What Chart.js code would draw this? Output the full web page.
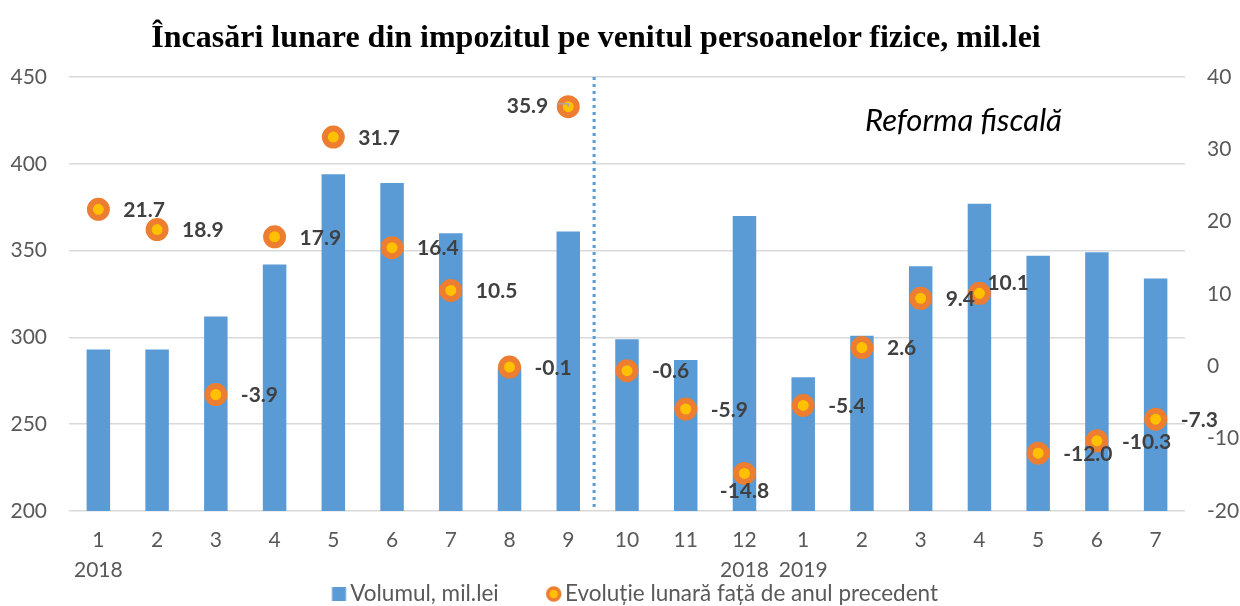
<!DOCTYPE html>
<html><head><meta charset="utf-8">
<script src="https://cdn.jsdelivr.net/npm/chart.js@4.4.1/dist/chart.umd.min.js"></script>
<style>
html,body{margin:0;padding:0;background:#fff;}
#wrap{position:relative;width:1240px;height:606px;overflow:hidden;}
#title{position:absolute;left:0;top:17px;width:1192px;text-align:center;font-family:"Liberation Serif","Times New Roman",serif;font-weight:bold;font-size:32px;line-height:38px;color:#000;white-space:nowrap;}
canvas{position:absolute;left:0;top:0;}
</style></head><body>
<div id="wrap"><canvas id="c" width="1240" height="606"></canvas><div id="title">Încasări lunare din impozitul pe venitul persoanelor fizice, mil.lei</div></div>
<script>
const monthLabels = ['1','2','3','4','5','6','7','8','9','10','11','12','1','2','3','4','5','6','7'];
const yearLabels  = ['2018','','','','','','','','','','','2018','2019','','','','','',''];
const volume    = [293, 293, 312, 342, 394, 389, 360, 283, 361, 299, 287, 370, 277, 301, 341, 377, 347, 349, 334];
const evolution = [21.7, 18.9, -3.9, 17.9, 31.7, 16.4, 10.5, -0.1, 35.9, -0.6, -5.9, -14.8, -5.4, 2.6, 9.4, 10.1, -12.0, -10.3, -7.3];
const leftTicks  = [200, 250, 300, 350, 400, 450];
const rightTicks = [-20, -10, 0, 10, 20, 30, 40];
const seriesNames = ['Volumul, mil.lei', 'Evoluție lunară față de anul precedent'];
const annotationText = 'Reforma fiscală';

const categories = monthLabels.map((m, i) => yearLabels[i] ? [m, yearLabels[i]] : m);
// label placement per point: r = right, l = left, b = below, ar = above-right
const placement = ['r','r','r','r','r','r','r','r','l','r','r','b','r','r','r','ar','r','r','r'];

const FONT = 'Lato, "Open Sans", sans-serif';
const BLUE = '#5B9BD5', ORANGE = '#ED7D31', YELLOW = '#FFC000';
const LEGEND_BOX = 53;

// legend markers (drawn at the right side of a wider transparent image so items are spaced like the original)
function makeMarker(kind) {
  const W = LEGEND_BOX + 17, H = 16;
  const c = document.createElement('canvas'); c.width = W; c.height = H;
  const g = c.getContext('2d');
  const cx = W / 2 + LEGEND_BOX / 2, cy = H / 2;
  if (kind === 'square') {
    g.fillStyle = BLUE; g.fillRect(cx - 7, cy - 7, 14, 14);
  } else {
    g.beginPath(); g.arc(cx, cy, 6, 0, Math.PI * 2);
    g.fillStyle = YELLOW; g.fill();
    g.lineWidth = 3.5; g.strokeStyle = ORANGE; g.stroke();
  }
  return c;
}
const legendMarkers = [makeMarker('square'), makeMarker('ring')];

const labelPlugin = {
  id: 'pointLabels',
  afterDatasetsDraw(chart) {
    const ctx = chart.ctx;
    const meta = chart.getDatasetMeta(1);
    ctx.save();
    ctx.font = 'bold 21px ' + FONT;
    ctx.fillStyle = '#404040';
    ctx.textBaseline = 'middle';
    meta.data.forEach((pt, i) => {
      const txt = evolution[i].toFixed(1);
      const p = placement[i];
      let x = pt.x, y = pt.y;
      if (p === 'r') { ctx.textAlign = 'left'; x += 25; y += 1; }
      else if (p === 'l') {
        ctx.textAlign = 'right'; x -= 20;
        // small leader line from label to point
        ctx.save();
        ctx.strokeStyle = '#A6A6A6'; ctx.lineWidth = 1.5;
        ctx.beginPath(); ctx.moveTo(pt.x - 11, pt.y - 3); ctx.lineTo(pt.x, pt.y - 3); ctx.lineTo(pt.x, pt.y); ctx.stroke();
        ctx.restore();
      }
      else if (p === 'b') { ctx.textAlign = 'center'; y += 18; }
      else if (p === 'ar') { ctx.textAlign = 'left'; x += 8; y -= 10; }
      ctx.fillText(txt, x, y);
    });
    ctx.restore();
  }
};

const dividerPlugin = {
  id: 'divider',
  afterLayout(chart) {
    if (chart.legend) { chart.legend.left -= 15; chart.legend.right -= 15; }
  },
  afterDatasetsDraw(chart) {
    const xs = chart.scales.x;
    const a = xs.getPixelForValue(8), b = xs.getPixelForValue(9);
    const x = a + (b - a) * 0.44;
    const area = chart.chartArea;
    const ctx = chart.ctx;
    ctx.save();
    ctx.strokeStyle = BLUE;
    ctx.lineWidth = 3;
    ctx.setLineDash([3, 4]);
    ctx.beginPath();
    ctx.moveTo(x, area.top);
    ctx.lineTo(x, area.bottom);
    ctx.stroke();
    ctx.setLineDash([]);
    ctx.font = 'italic 31px ' + FONT;
    ctx.fillStyle = '#000';
    ctx.textAlign = 'left';
    ctx.textBaseline = 'alphabetic';
    ctx.fillText(annotationText, 865, 131);
    ctx.restore();
  }
};

new Chart(document.getElementById('c'), {
  data: {
    labels: categories,
    datasets: [
      {
        type: 'bar',
        label: seriesNames[0],
        data: volume,
        yAxisID: 'y',
        backgroundColor: BLUE,
        borderWidth: 0,
        barPercentage: 0.4,
        categoryPercentage: 1.0,
        order: 2
      },
      {
        type: 'line',
        label: seriesNames[1],
        data: evolution,
        yAxisID: 'y1',
        showLine: false,
        pointRadius: 8.5,
        pointBorderWidth: 6,
        pointBackgroundColor: YELLOW,
        pointBorderColor: ORANGE,
        backgroundColor: YELLOW,
        borderColor: ORANGE,
        pointStyle: 'circle',
        order: 1
      }
    ]
  },
  options: {
    responsive: false,
    animation: false,
    devicePixelRatio: 1,
    layout: { padding: { top: 77, left: 0, right: 0, bottom: -9.25 } },
    plugins: {
      tooltip: { enabled: false },
      title: { display: false },
      legend: {
        position: 'bottom',
        fullSize: false,
        labels: {
          usePointStyle: true,
          pointStyleWidth: LEGEND_BOX,
          boxWidth: LEGEND_BOX,
          boxHeight: 14,
          padding: 2,
          color: '#595959',
          font: { family: FONT, size: 22.5 },
          sort: (a, b) => a.datasetIndex - b.datasetIndex,
          generateLabels(chart) {
            const items = Chart.defaults.plugins.legend.labels.generateLabels(chart);
            items.forEach(it => {
              it.pointStyle = legendMarkers[it.datasetIndex];
              it.lineWidth = 0;
            });
            return items;
          }
        }
      }
    },
    scales: {
      x: {
        grid: { display: false, drawTicks: false },
        border: { display: false },
        ticks: { color: '#595959', font: { family: FONT, size: 21, lineHeight: 1.4 }, padding: 15, maxRotation: 0, autoSkip: false },
        afterFit(s) { s.height = 69.75; }
      },
      y: {
        position: 'left',
        min: 200, max: 450,
        afterBuildTicks(s) { s.ticks = leftTicks.map(v => ({ value: v })); },
        grid: { color: '#D9D9D9', lineWidth: 1.5, drawTicks: false },
        border: { display: false },
        ticks: { color: '#595959', font: { family: FONT, size: 21 }, padding: 22 },
        afterFit(s) { s.width = 69; }
      },
      y1: {
        position: 'right',
        min: -20, max: 40,
        afterBuildTicks(s) { s.ticks = rightTicks.map(v => ({ value: v })); },
        grid: { display: false, drawTicks: false },
        border: { display: false },
        ticks: { color: '#595959', font: { family: FONT, size: 21 }, padding: 22 },
        afterFit(s) { s.width = 55; }
      }
    }
  },
  plugins: [labelPlugin, dividerPlugin]
});
</script>
</body></html>
